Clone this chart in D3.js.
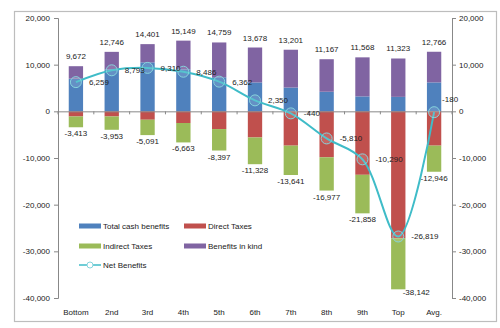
<!DOCTYPE html>
<html>
<head>
<meta charset="utf-8">
<script src="https://cdn.jsdelivr.net/npm/d3@7"></script>
<style>
  body { margin: 0; background: #fff; }
  text { font-family: "Liberation Sans", Arial, sans-serif; font-size: 8px; fill: #222; }
</style>
</head>
<body>
<script>
// deciles plus the average household
let categories = ['Bottom', '2nd', '3rd', '4th', '5th', '6th', '7th', '8th', '9th', 'Top', 'Avg.'];
let cashBenefits = [7000, 9000, 10500, 9000, 7300, 6200, 5100, 4200, 3200, 3100, 6200];
let inKind = [2672, 3746, 3901, 6149, 7459, 7478, 8101, 6967, 8368, 8223, 6566];
let directTaxes = [-1100, -1100, -1800, -2500, -3800, -5600, -7350, -9850, -13600, -27200, -7350];
let indirectTaxes = [-2313, -2853, -3291, -4163, -4597, -5728, -6291, -7127, -8258, -10942, -5596];
let yTicks = [20000, 10000, 0, -10000, -20000, -30000, -40000];

let colors = {cash: '#4F81BD', direct: '#C0504D', indirect: '#9BBB59', kind: '#8064A2', net: '#3FBCC8'};

let rows = categories.map(function(c, i) {
  let pos = cashBenefits[i] + inKind[i];
  let neg = directTaxes[i] + indirectTaxes[i];
  return {cat: c, cash: cashBenefits[i], kind: inKind[i], direct: directTaxes[i], indirect: indirectTaxes[i],
          pos: pos, neg: neg, net: pos + neg};
});

let svg = d3.select('body').append('svg').attr('width', 500).attr('height', 328);

svg.append('rect').attr('x', 14.5).attr('y', 11.5).attr('width', 482).attr('height', 310)
  .attr('fill', '#fff').attr('stroke', '#BDBDBD').attr('stroke-width', 1.2);

let x = d3.scaleBand().domain(categories).range([58, 452]).paddingInner(0.6).paddingOuter(0.3);
let y = d3.scaleLinear().domain([-40000, 20000]).range([298, 18]);
let fmt = d3.formatLocale({decimal: '.', thousands: ',', grouping: [3], currency: ['', ''], minus: '-'}).format(',');

// axes
let leftAxis = d3.axisLeft(y).tickValues(yTicks).tickSize(4).tickFormat(fmt);
let rightAxis = d3.axisRight(y).tickValues(yTicks).tickSize(4).tickFormat(fmt);
[[leftAxis, 58], [rightAxis, 452]].forEach(function(a) {
  let g = svg.append('g').attr('transform', 'translate(' + a[1] + ',0)').call(a[0]);
  g.select('.domain').attr('stroke', '#888');
  g.selectAll('.tick line').attr('stroke', '#888');
  g.selectAll('.tick text').attr('fill', '#333').style('font-size', '8px')
    .attr('x', a[1] === 58 ? -8 : 7);
});

// stacked bars: positives upward from zero, negatives downward
let bars = svg.append('g');
rows.forEach(function(d) {
  let bx = x(d.cat), bw = x.bandwidth();
  let segs = [
    {v0: 0, v1: d.cash, c: colors.cash},
    {v0: d.cash, v1: d.pos, c: colors.kind},
    {v0: 0, v1: d.direct, c: colors.direct},
    {v0: d.direct, v1: d.neg, c: colors.indirect}
  ];
  bars.selectAll(null).data(segs).enter().append('rect')
    .attr('x', bx).attr('width', bw)
    .attr('y', function(s) { return y(Math.max(s.v0, s.v1)); })
    .attr('height', function(s) { return Math.abs(y(s.v0) - y(s.v1)); })
    .attr('fill', function(s) { return s.c; });
});

// zero line with category ticks
let xAxis = d3.axisBottom(x).tickSize(0).tickFormat('');
svg.append('g').attr('transform', 'translate(0,' + y(0) + ')').call(xAxis)
  .select('.domain').attr('stroke', '#888');
let bounds = d3.range(categories.length + 1).map(function(i) { return 58 + i * x.step(); });
svg.selectAll('.xtick').data(bounds).enter().append('line')
  .attr('x1', function(d) { return d; }).attr('x2', function(d) { return d; })
  .attr('y1', y(0)).attr('y2', y(0) + 3).attr('stroke', '#888');

// category labels along the bottom
svg.selectAll('.cat').data(categories).enter().append('text')
  .attr('x', function(d) { return x(d) + x.bandwidth() / 2; })
  .attr('y', 315).attr('text-anchor', 'middle').text(function(d) { return d; });

// totals above and below each bar
svg.selectAll('.pos').data(rows).enter().append('text')
  .attr('x', function(d) { return x(d.cat) + x.bandwidth() / 2; })
  .attr('y', function(d) { return y(d.pos) - 7; })
  .attr('text-anchor', 'middle').text(function(d) { return fmt(d.pos); });

svg.selectAll('.neg').data(rows).enter().append('text')
  .attr('x', function(d) {
    let cx = x(d.cat) + x.bandwidth() / 2;
    return y(d.neg) + 9 > 298 ? cx + 18 : cx;
  })
  .attr('y', function(d) { return Math.min(y(d.neg) + 9, 295); })
  .attr('text-anchor', 'middle').text(function(d) { return fmt(d.neg); });

// net benefits line
let cx = function(d) { return x(d.cat) + x.bandwidth() / 2; };
let line = d3.line().x(cx).y(function(d) { return y(d.net); }).curve(d3.curveCatmullRom.alpha(0.5));
svg.append('path').datum(rows).attr('d', line)
  .attr('fill', 'none').attr('stroke', colors.net).attr('stroke-width', 2);
svg.selectAll('.mk').data(rows).enter().append('circle')
  .attr('cx', cx).attr('cy', function(d) { return y(d.net); }).attr('r', 5.5)
  .attr('fill', 'rgba(255,255,255,0.12)').attr('stroke', '#86D4DD').attr('stroke-width', 1);
// the last label sits above the point so it clears the right axis
let last = rows.length - 1;
svg.selectAll('.netlab').data(rows).enter().append('text')
  .attr('x', function(d, i) { return cx(d) + (i === last ? 8 : 13); })
  .attr('y', function(d, i) { return y(d.net) + (i === last ? -10 : 3); })
  .text(function(d) { return fmt(d.net); });

// legend
let legend = [
  {name: 'Total cash benefits', c: colors.cash, x: 79, y: 226},
  {name: 'Direct Taxes', c: colors.direct, x: 184, y: 226},
  {name: 'Indirect Taxes', c: colors.indirect, x: 79, y: 246},
  {name: 'Benefits in kind', c: colors.kind, x: 184, y: 246}
];
let lg = svg.append('g');
lg.selectAll('rect').data(legend).enter().append('rect')
  .attr('x', function(d) { return d.x; }).attr('y', function(d) { return d.y - 2.5; })
  .attr('width', 22).attr('height', 5).attr('fill', function(d) { return d.c; });
lg.selectAll('text').data(legend).enter().append('text')
  .attr('x', function(d) { return d.x + 24; }).attr('y', function(d) { return d.y + 3; })
  .text(function(d) { return d.name; });
lg.append('line').attr('x1', 79).attr('x2', 101).attr('y1', 265).attr('y2', 265)
  .attr('stroke', colors.net).attr('stroke-width', 1.5);
lg.append('circle').attr('cx', 90).attr('cy', 265).attr('r', 3)
  .attr('fill', '#fff').attr('stroke', '#86D4DD');
lg.append('text').attr('x', 103).attr('y', 268).text('Net Benefits');
</script>
</body>
</html>
